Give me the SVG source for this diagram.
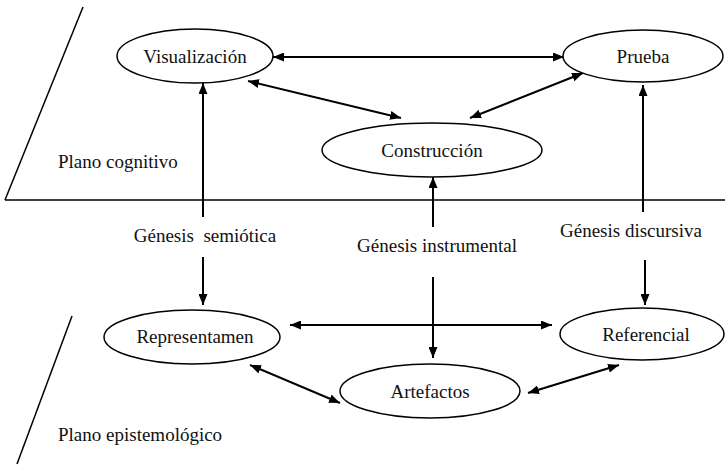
<svg xmlns="http://www.w3.org/2000/svg" width="725" height="465" viewBox="0 0 725 465">
<style>
.n{fill:#fff;stroke:#000;stroke-width:1.5}
.t{font-family:"Liberation Serif","Times New Roman",serif;font-size:19px;fill:#111;white-space:pre}
.m{text-anchor:middle}
.c{stroke:#000;stroke-width:2;fill:none}
.pl{stroke:#000;stroke-width:1.5;fill:none}
</style>
<defs>
<marker id="a" markerUnits="userSpaceOnUse" markerWidth="11" markerHeight="9" refX="11" refY="4.5" orient="auto-start-reverse" viewBox="0 0 11 9">
<path d="M0,0 L11,4.5 L0,9 z" fill="#000"/>
</marker>
</defs>
<g id="planes">
<line class="pl" x1="5" y1="200" x2="725" y2="200"/>
<line class="pl" x1="5" y1="200" x2="83" y2="7"/>
<line class="pl" x1="72" y1="316" x2="17" y2="464"/>
<text class="t" x="58" y="168">Plano cognitivo</text>
<text class="t" x="58" y="441">Plano epistemológico</text>
</g>
<g id="connectors">
<line class="c" x1="273" y1="57" x2="564" y2="57" marker-start="url(#a)" marker-end="url(#a)"/>
<line class="c" x1="248" y1="81" x2="401" y2="118" marker-start="url(#a)" marker-end="url(#a)"/>
<line class="c" x1="470" y1="118" x2="583" y2="73" marker-start="url(#a)" marker-end="url(#a)"/>
<line class="c" x1="203" y1="217" x2="203" y2="83" marker-end="url(#a)"/>
<line class="c" x1="203" y1="257" x2="203" y2="305" marker-end="url(#a)"/>
<line class="c" x1="433" y1="227" x2="433" y2="177" marker-end="url(#a)"/>
<line class="c" x1="433" y1="277" x2="433" y2="358" marker-end="url(#a)"/>
<line class="c" x1="643" y1="212" x2="643" y2="85" marker-end="url(#a)"/>
<line class="c" x1="645" y1="260" x2="645" y2="305" marker-end="url(#a)"/>
<line class="c" x1="290" y1="325" x2="552" y2="325" marker-start="url(#a)" marker-end="url(#a)"/>
<line class="c" x1="250" y1="365" x2="340" y2="403" marker-start="url(#a)" marker-end="url(#a)"/>
<line class="c" x1="528" y1="393" x2="619" y2="365" marker-start="url(#a)" marker-end="url(#a)"/>
<text class="t m" x="205" y="242" xml:space="preserve">Génesis  semiótica</text>
<text class="t m" x="437" y="252">Génesis instrumental</text>
<text class="t m" x="631" y="237">Génesis discursiva</text>
</g>
<g id="visualizacion">
<ellipse class="n" cx="195" cy="56" rx="78" ry="27"/>
<text class="t m" x="195" y="63">Visualización</text>
</g>
<g id="prueba">
<ellipse class="n" cx="643" cy="56" rx="80" ry="26"/>
<text class="t m" x="643" y="63">Prueba</text>
</g>
<g id="construccion">
<ellipse class="n" cx="432" cy="150" rx="110" ry="27"/>
<text class="t m" x="432" y="157">Construcción</text>
</g>
<g id="representamen">
<ellipse class="n" cx="192" cy="337" rx="88" ry="27"/>
<text class="t m" x="195" y="343">Representamen</text>
</g>
<g id="referencial">
<ellipse class="n" cx="642" cy="334" rx="82" ry="26"/>
<text class="t m" x="646" y="341">Referencial</text>
</g>
<g id="artefactos">
<ellipse class="n" cx="430" cy="391" rx="90" ry="27"/>
<text class="t m" x="430" y="398">Artefactos</text>
</g>
</svg>
